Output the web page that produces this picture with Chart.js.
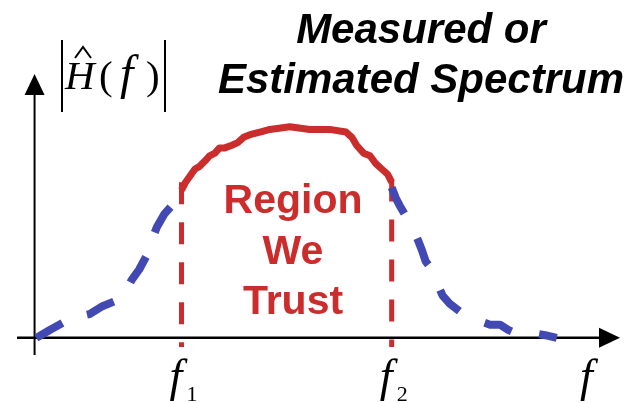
<!DOCTYPE html>
<html>
<head>
<meta charset="utf-8">
<script src="https://cdn.jsdelivr.net/npm/chart.js@4.4.1/dist/chart.umd.min.js"></script>
<style>
  html, body { margin: 0; padding: 0; background: #fff; }
  canvas { display: block; }
</style>
</head>
<body>
<canvas id="chartCanvas" width="635" height="403"></canvas>
<script>
// Spectrum estimate (frequency 0..100, magnitude 0..1)
const freqLow  = [0.3, 2.6, 5.1, 7.4, 9.4, 11.6, 13.8, 15.4, 16.6, 17.9, 19.1, 20.0, 20.9, 22.2, 23.8, 25.1];
const magLow   = [0.00, 0.03, 0.06, 0.08, 0.09, 0.12, 0.14, 0.17, 0.22, 0.26, 0.31, 0.37, 0.42, 0.47, 0.51, 0.56];

const freqPass = [25.1, 25.8, 27.4, 28.2, 29.1, 29.9, 30.8, 31.6, 32.5, 33.7, 34.7, 35.7, 36.8, 38.5, 40.2, 43.6, 47.0, 50.4, 53.2, 54.2, 55.0, 56.2, 57.3, 58.3, 59.3, 60.3, 61.0];
const magPass  = [0.56, 0.59, 0.64, 0.65, 0.67, 0.69, 0.70, 0.72, 0.72, 0.73, 0.74, 0.76, 0.77, 0.78, 0.79, 0.80, 0.79, 0.79, 0.78, 0.76, 0.73, 0.70, 0.69, 0.66, 0.64, 0.62, 0.59];

const freqHigh = [61.0, 61.7, 62.4, 63.2, 64.1, 65.5, 66.2, 66.8, 67.5, 68.7, 69.7, 70.9, 73.2, 75.2, 77.8, 79.5, 80.9, 81.9, 82.9, 84.6, 87.2, 89.2];
const magHigh  = [0.57, 0.53, 0.50, 0.47, 0.44, 0.37, 0.33, 0.29, 0.27, 0.21, 0.16, 0.13, 0.09, 0.07, 0.05, 0.05, 0.03, 0.02, 0.02, 0.02, 0.01, 0.00];

// trusted band edges
const f1 = 25.1;
const f2 = 61.0;
const bandTop = [0.59, 0.60];   // where the dashed markers start (at f1, f2)
const markerBottom = -0.035;

// labels
const titleLines = ['Measured or', 'Estimated Spectrum'];
const regionLines = ['Region', 'We', 'Trust'];
const edgeLabels = [{ at: f1, sub: '1' }, { at: f2, sub: '2' }];

const blue = '#4349B3';
const red = '#CB2C2C';

const toPoints = (xs, ys) => xs.map((x, i) => ({ x: x, y: ys[i] }));

// axes with arrow heads, drawn under the curves
const axesPlugin = {
  id: 'axes',
  beforeDatasetsDraw(chart) {
    const { ctx, chartArea, scales } = chart;
    const x0 = scales.x.getPixelForValue(0);
    const y0 = scales.y.getPixelForValue(0);
    ctx.save();
    ctx.strokeStyle = '#000';
    ctx.fillStyle = '#000';

    // y axis
    ctx.lineWidth = 2;
    ctx.beginPath();
    ctx.moveTo(x0, chartArea.bottom);
    ctx.lineTo(x0, chartArea.top + 15);
    ctx.stroke();
    ctx.beginPath();
    ctx.moveTo(x0, chartArea.top);
    ctx.lineTo(x0 - 10, chartArea.top + 21);
    ctx.lineTo(x0 + 10, chartArea.top + 21);
    ctx.closePath();
    ctx.fill();

    // x axis
    ctx.lineWidth = 2.5;
    ctx.beginPath();
    ctx.moveTo(chartArea.left, y0);
    ctx.lineTo(chartArea.right - 15, y0);
    ctx.stroke();
    ctx.beginPath();
    ctx.moveTo(chartArea.right, y0);
    ctx.lineTo(chartArea.right - 21, y0 - 10);
    ctx.lineTo(chartArea.right - 21, y0 + 10);
    ctx.closePath();
    ctx.fill();
    ctx.restore();
  }
};

// text annotations
const textPlugin = {
  id: 'texts',
  afterDatasetsDraw(chart) {
    const { ctx, scales } = chart;
    const serif = '"Liberation Serif", "Times New Roman", serif';
    ctx.save();

    // title
    ctx.fillStyle = '#000';
    ctx.textAlign = 'center';
    ctx.textBaseline = 'alphabetic';
    ctx.font = 'italic bold 42px "Liberation Sans", Arial, sans-serif';
    ctx.fillText(titleLines[0], 421, 43);
    ctx.fillText(titleLines[1], 421, 93);

    // region label
    ctx.fillStyle = red;
    ctx.font = 'bold 41px "Liberation Sans", Arial, sans-serif';
    regionLines.forEach((t, i) => ctx.fillText(t, 293, 213 + i * 50.5));

    // |H^(f)| axis label
    ctx.fillStyle = '#000';
    ctx.strokeStyle = '#000';
    ctx.lineWidth = 2;
    ctx.beginPath();
    ctx.moveTo(62, 40); ctx.lineTo(62, 112);
    ctx.moveTo(165, 40); ctx.lineTo(165, 112);
    ctx.stroke();
    ctx.textAlign = 'left';
    const base = 89;
    ctx.font = 'italic 41px ' + serif;
    ctx.fillText('H', 65, base);
    ctx.lineWidth = 2;
    ctx.beginPath();
    ctx.moveTo(75, 58); ctx.lineTo(83, 47); ctx.lineTo(91, 58);
    ctx.stroke();
    ctx.font = '41px ' + serif;
    ctx.fillText('(', 99, base);
    ctx.font = 'italic 48px ' + serif;
    ctx.fillText('f', 120, base);
    ctx.font = '41px ' + serif;
    ctx.fillText(')', 146, base);

    // f1, f2 under the axis
    edgeLabels.forEach(l => {
      const px = scales.x.getPixelForValue(l.at);
      ctx.font = 'italic 46px ' + serif;
      ctx.fillText('f', px - 12, 391);
      ctx.font = '22px ' + serif;
      ctx.fillText(l.sub, px + 5, 401);
    });

    // axis name
    ctx.font = 'italic 46px ' + serif;
    ctx.fillText('f', 580, 391);
    ctx.restore();
  }
};

new Chart(document.getElementById('chartCanvas').getContext('2d'), {
  type: 'line',
  data: {
    datasets: [
      {
        data: toPoints(freqLow, magLow),
        borderColor: blue, borderWidth: 8, borderDash: [30, 26],
        borderCapStyle: 'butt', borderJoinStyle: 'round', pointRadius: 0, tension: 0
      },
      {
        data: toPoints(freqPass, magPass),
        borderColor: red, borderWidth: 7,
        borderCapStyle: 'butt', borderJoinStyle: 'round', pointRadius: 0, tension: 0
      },
      {
        data: toPoints(freqHigh, magHigh),
        borderColor: blue, borderWidth: 8, borderDash: [29, 28],
        borderCapStyle: 'butt', borderJoinStyle: 'round', pointRadius: 0, tension: 0
      },
      {
        data: [{ x: f1, y: bandTop[0] }, { x: f1, y: markerBottom }],
        borderColor: red, borderWidth: 5, borderDash: [22, 18],
        borderCapStyle: 'butt', pointRadius: 0
      },
      {
        data: [{ x: f2, y: bandTop[1] }, { x: f2, y: markerBottom }],
        borderColor: red, borderWidth: 5, borderDash: [22, 18],
        borderCapStyle: 'butt', pointRadius: 0
      }
    ]
  },
  options: {
    responsive: false,
    animation: false,
    devicePixelRatio: 1,
    layout: { padding: { left: 17, right: 15, top: 74, bottom: 48 } },
    plugins: { legend: { display: false }, tooltip: { enabled: false }, title: { display: false } },
    scales: {
      x: { type: 'linear', min: -3, max: 100, display: false },
      y: { type: 'linear', min: -0.065, max: 1, display: false }
    }
  },
  plugins: [axesPlugin, textPlugin]
});
</script>
</body>
</html>
